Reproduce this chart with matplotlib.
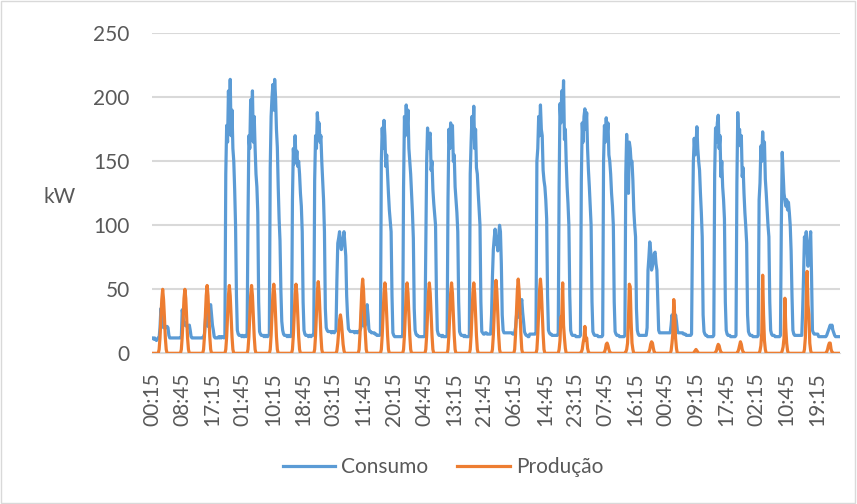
import matplotlib
matplotlib.use("Agg")
import matplotlib.pyplot as plt
from matplotlib.patches import Rectangle

plt.rcParams['font.family'] = ['Lato', 'DejaVu Sans']

# consumption per day, 25 readings each (kW)
consumo_dias = [
    [12,12,11,12,11,10,11,12,12,20,35,30,22,20,22,21,20,21,20,14,12,12,12,12,12],
    [12,12,12,12,12,12,12,12,13,34,28,22,24,22,21,22,20,22,18,13,12,12,12,12,12],
    [12,12,12,12,12,12,12,12,13,15,25,35,30,21,25,36,38,30,22,18,13,12,12,12,12],
    [13,12,13,12,13,13,12,14,140,178,165,205,175,214,170,190,160,150,128,100,45,18,15,14,14],
    [14,13,14,13,13,14,13,15,105,170,160,198,175,205,165,185,160,140,130,110,40,17,15,14,14],
    [14,13,14,13,14,13,14,15,145,185,200,210,190,214,200,175,161,130,105,88,49,25,18,15,14],
    [14,14,13,14,13,14,13,15,120,160,148,170,150,158,146,150,140,125,115,95,40,18,15,14,14],
    [14,13,14,14,13,14,14,16,135,170,160,188,175,180,165,170,150,135,120,95,35,20,18,17,17],
    [17,17,16,17,17,16,17,18,57,86,90,95,85,81,86,90,95,85,76,45,29,19,18,17,17],
    [17,17,17,16,17,17,16,17,17,18,20,39,28,22,21,22,25,38,30,19,17,17,16,16,16],
    [16,15,15,14,14,14,14,15,150,176,160,182,170,146,155,140,125,112,104,95,45,16,14,13,13],
    [13,13,13,13,13,13,13,14,130,185,170,194,175,190,160,150,140,125,110,90,35,18,15,14,14],
    [13,13,13,13,13,13,13,14,86,150,176,160,170,172,143,150,128,117,108,100,45,18,15,14,14],
    [14,13,14,13,13,13,13,14,120,175,160,180,165,178,150,155,130,120,110,95,40,17,15,14,14],
    [14,13,14,13,13,13,13,14,140,165,185,170,193,160,175,145,140,125,112,100,40,17,16,15,15],
    [16,16,15,15,15,15,15,30,60,81,90,97,85,88,80,92,100,95,70,30,18,16,16,16,16],
    [16,16,16,16,16,16,15,15,16,20,29,35,30,28,32,38,42,32,25,17,15,14,14,13,13],
    [15,15,15,15,15,15,15,16,150,160,185,170,194,175,170,143,135,130,120,105,45,18,16,15,15],
    [14,14,14,14,14,14,14,15,130,195,180,205,190,213,167,175,149,130,117,100,45,18,15,14,14],
    [14,14,13,13,13,13,13,14,135,180,165,185,191,175,188,160,143,130,115,100,40,17,15,14,14],
    [14,14,13,13,13,13,13,14,150,178,165,184,170,180,155,150,140,125,115,100,40,17,15,14,14],
    [14,13,13,13,13,13,13,14,140,171,150,125,165,160,149,150,135,112,100,91,35,18,15,14,14],
    [14,14,14,14,14,14,14,20,65,75,87,80,65,68,72,78,79,70,65,40,18,16,16,16,16],
    [16,16,16,16,16,16,16,16,16,22,30,25,18,20,30,25,18,16,16,16,16,16,16,15,15],
    [15,14,14,14,14,14,14,15,91,149,168,155,162,177,160,150,143,125,110,91,30,17,15,14,14],
    [13,13,13,13,13,13,13,14,140,176,165,180,186,160,170,138,150,130,120,105,40,18,15,14,14],
    [14,13,13,13,13,13,13,14,133,188,165,175,162,170,138,145,125,110,99,86,30,17,15,14,14],
    [14,13,13,13,13,13,13,14,120,133,162,150,173,157,165,136,125,112,100,91,40,18,15,14,14],
    [14,13,13,13,13,13,13,14,100,157,140,125,120,115,120,112,118,110,100,80,45,18,15,14,14],
    [14,14,14,14,14,14,14,34,60,91,85,95,80,68,80,88,95,60,18,16,15,15,15,15,15],
    [13,13,13,13,13,13,13,13,13,14,16,18,20,22,20,22,18,16,14,13,13,13,13,13,13],
]

# production in daylight hours (9 readings per day, zero at night)
producao_dia = [
    [3,12,28,42,50,42,28,12,3],
    [3,13,27,43,50,43,27,12,3],
    [3,13,29,45,53,45,29,13,3],
    [3,13,29,45,53,45,29,13,3],
    [3,13,29,45,53,45,29,13,3],
    [3,14,30,46,54,46,30,13,3],
    [3,14,30,46,54,46,30,13,3],
    [3,14,31,48,56,48,31,14,3],
    [2,8,17,26,30,25,16,7,2],
    [3,15,32,49,58,49,32,15,3],
    [3,14,30,47,55,47,30,14,3],
    [3,14,30,47,55,47,30,14,3],
    [3,14,30,47,55,47,30,14,3],
    [3,14,30,47,55,47,30,14,3],
    [3,14,30,47,55,47,30,14,3],
    [3,14,31,48,57,48,31,14,3],
    [3,15,32,49,58,49,32,15,3],
    [3,15,32,49,58,49,32,15,3],
    [3,10,28,30,55,22,12,4,0],
    [1,3,8,12,21,10,12,4,1],
    [0,1,3,7,8,6,3,1,0],
    [1,3,8,25,54,52,25,8,3],
    [0,1,3,7,9,8,4,1,0],
    [0,2,8,16,42,30,12,4,0],
    [0,0,1,2,3,2,1,0,0],
    [0,1,2,5,7,6,3,1,0],
    [0,1,3,6,9,7,3,1,0],
    [0,2,6,16,61,30,10,3,0],
    [0,2,5,12,43,20,8,2,0],
    [0,3,12,40,64,38,30,8,2],
    [0,1,3,6,8,8,3,1,0],
]

tick_labels = ["00:15", "08:45", "17:15", "01:45", "10:15", "18:45", "03:15", "11:45",
               "20:15", "04:45", "13:15", "21:45", "06:15", "14:45", "23:15", "07:45",
               "16:15", "00:45", "09:15", "17:45", "02:15", "10:45", "19:15"]
label_step = 34

consumo = [v for dia in consumo_dias for v in dia]
producao = []
for dia in producao_dia:
    producao += [0] * 8 + dia + [0] * 8

n = len(consumo)
x = list(range(n))

fig = plt.figure(figsize=(8.57, 5.04), dpi=100)
ax = fig.add_axes([152 / 857, 1 - 353.3 / 504, 688 / 857, 320 / 504])

ax.plot(x, consumo, color='#5B9BD5', lw=2.3, label='Consumo', zorder=3)
ax.plot(x, producao, color='#ED7D31', lw=2.3, label='Produção', zorder=4)

ax.set_xlim(0, n - 1)
ax.set_ylim(0, 250)
ax.set_yticks(range(0, 251, 50))
ticks = list(range(0, n, label_step))
ax.set_xticks(ticks)
ax.set_xticklabels(tick_labels[:len(ticks)], rotation=90)

ax.grid(axis='y', color='#D9D9D9', lw=1.5, zorder=0)
for s in ['top', 'right', 'left']:
    ax.spines[s].set_visible(False)
ax.spines['bottom'].set_color('#D9D9D9')
ax.tick_params(length=0, labelsize=15, colors='#595959')
ax.tick_params(axis='y', pad=16)
ax.tick_params(axis='x', pad=14)

fig.text(60 / 857, 1 - 197 / 504, 'kW', ha='center', va='center', fontsize=15, color='#595959')

fig.legend(loc='center', bbox_to_anchor=(443 / 857, 1 - 467 / 504), ncol=2, frameon=False,
           fontsize=15, handlelength=2.5, handletextpad=0.3, columnspacing=1.4, labelcolor='#595959')

fig.add_artist(Rectangle((0.001, 0.001), 0.997, 0.997, transform=fig.transFigure,
                         fill=False, edgecolor='#D9D9D9', lw=1))

fig.savefig('out.png', dpi=100)
